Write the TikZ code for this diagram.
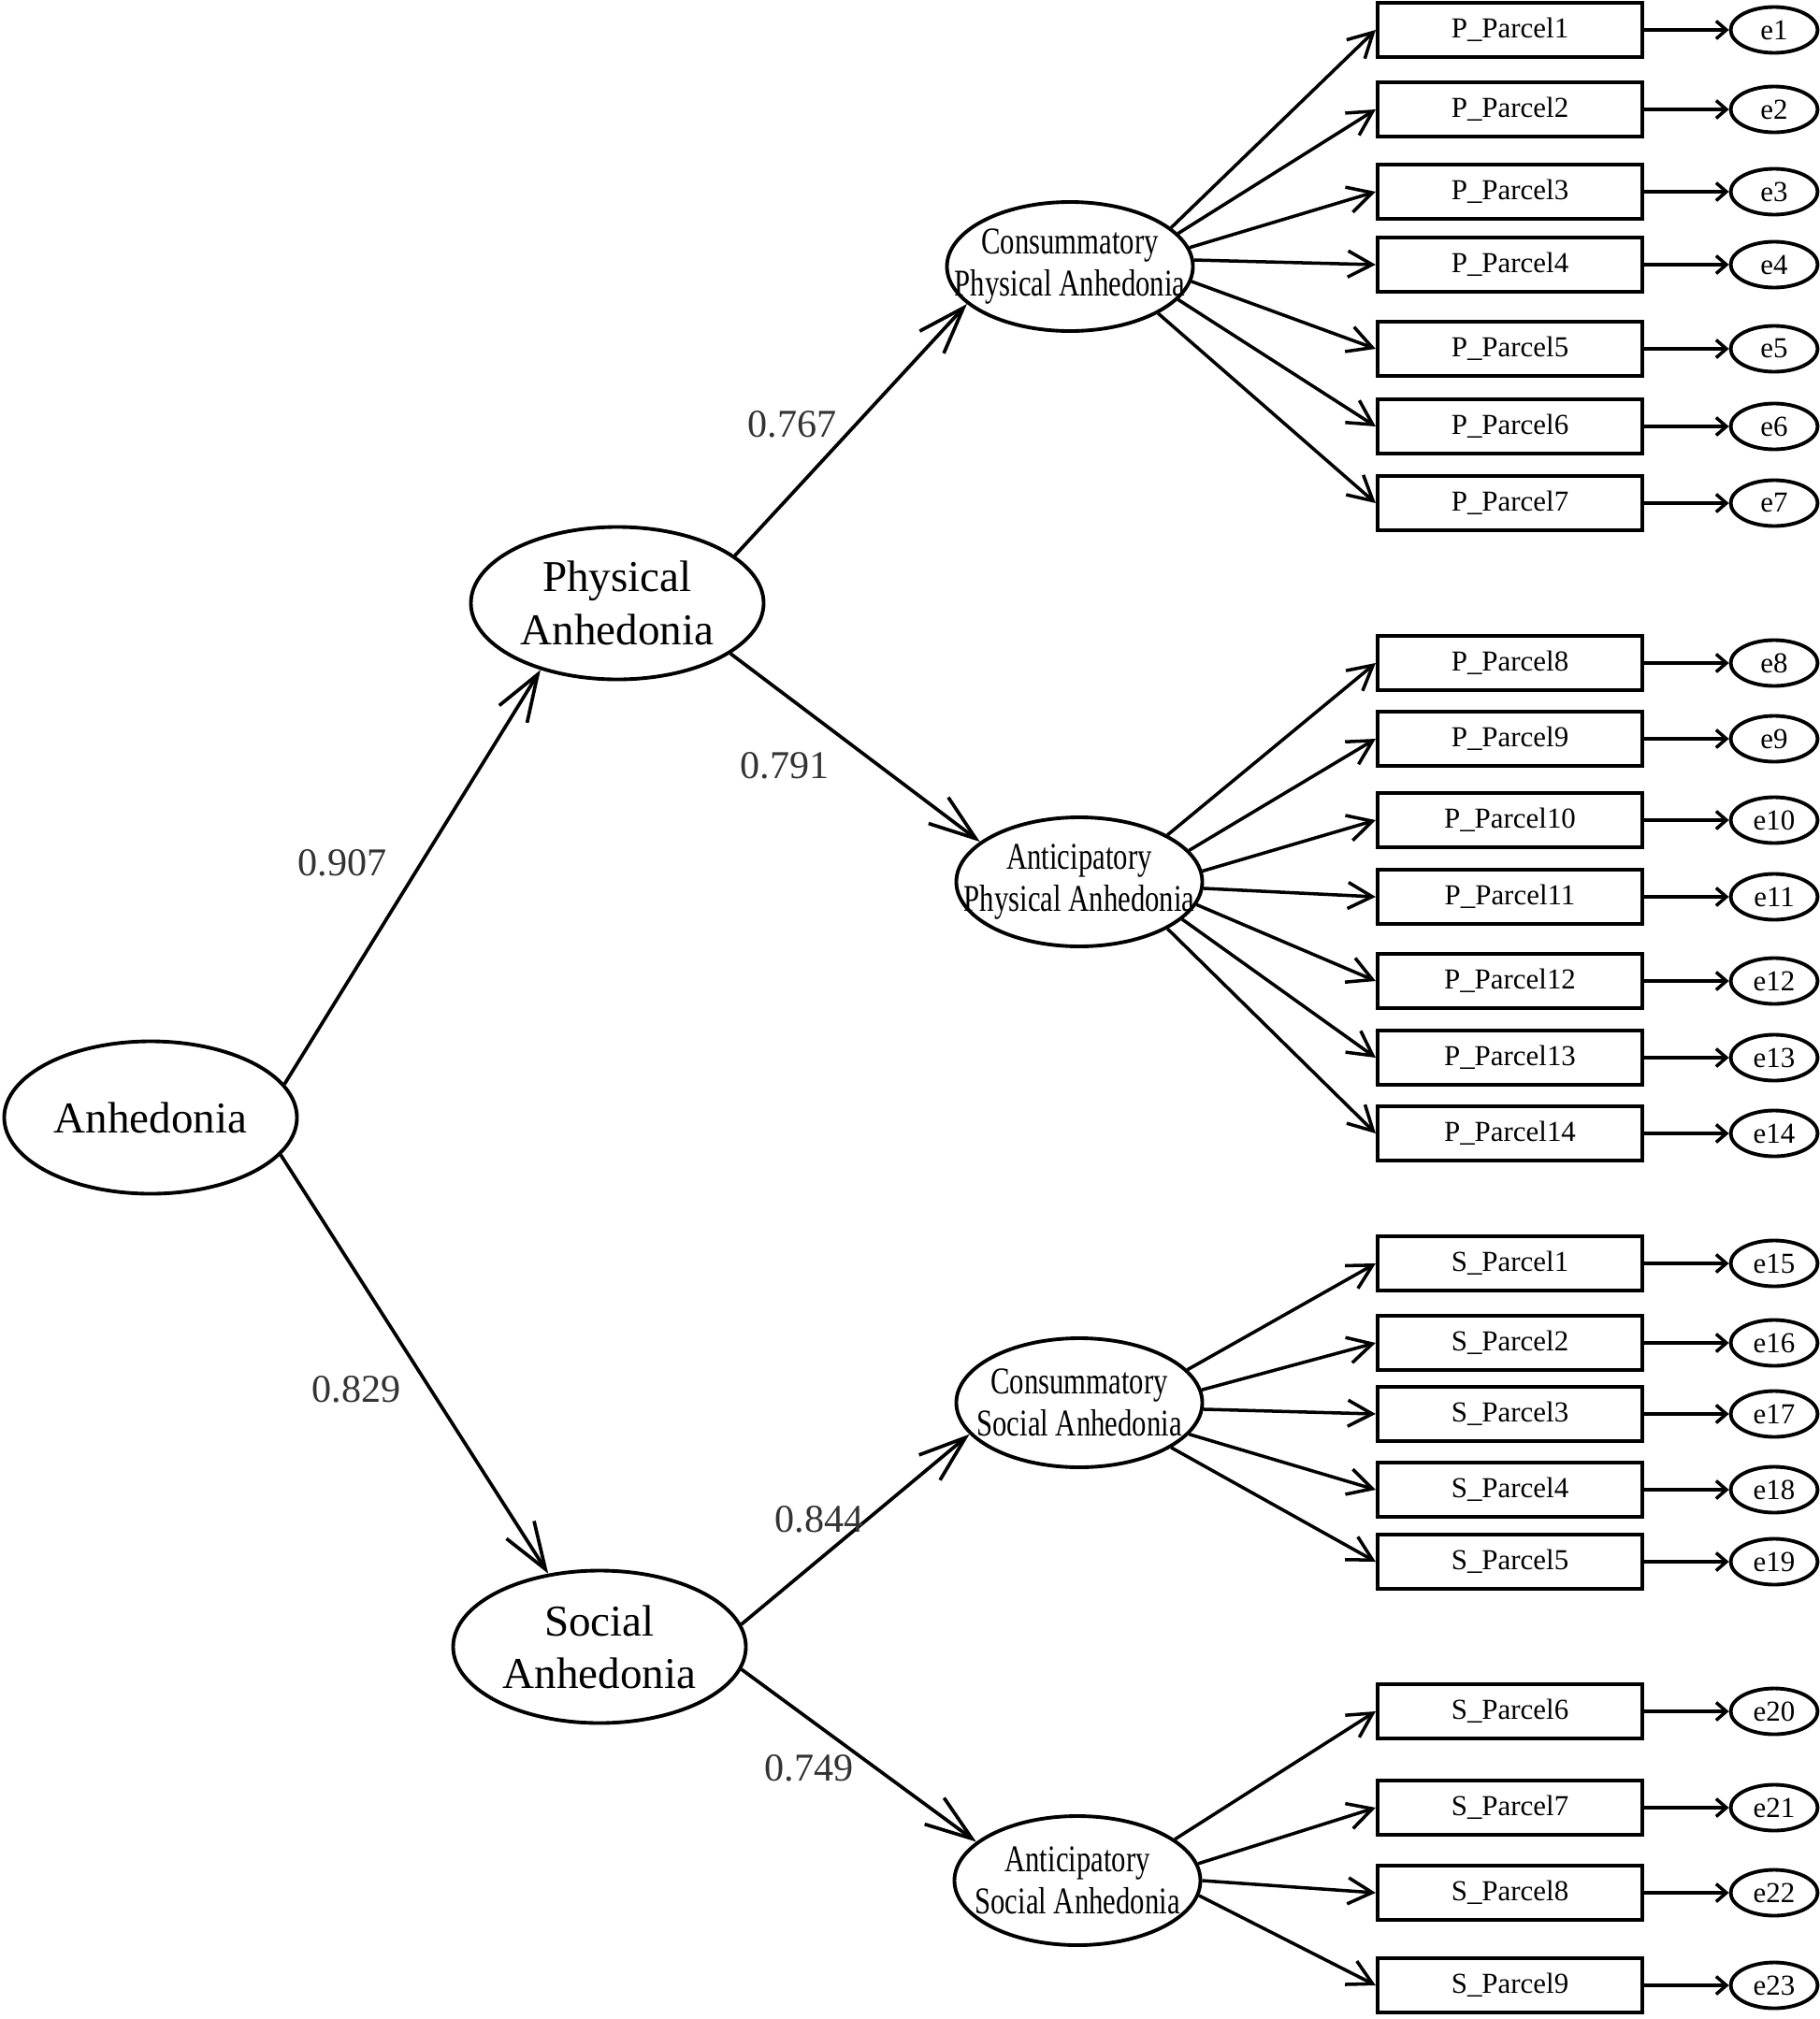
\documentclass[tikz,border=0pt]{standalone}
\usepackage{fontspec}
\setmainfont{Liberation Serif}
\newfontfamily\narrowfont{Liberation Serif}[FakeStretch=0.76]
\usetikzlibrary{arrows.meta,shapes.geometric}

\begin{document}
\begin{tikzpicture}[
lat/.style={draw,ellipse,line width=1.1pt,minimum width=31.3mm,minimum height=16.3mm,inner sep=0pt,align=center,font=\fontsize{13.4}{16}\selectfont},
sub/.style={draw,ellipse,line width=1.1pt,minimum width=26.3mm,minimum height=13.8mm,inner ysep=0pt,inner xsep=-2cm,align=center,font=\narrowfont\fontsize{11.5}{12.8}\selectfont},
box/.style={draw,line width=1.2pt,minimum width=28.3mm,minimum height=5.8mm,inner sep=0pt,font=\fontsize{8.8}{10}\selectfont},
err/.style={draw,ellipse,line width=1.1pt,minimum width=9.3mm,minimum height=4.9mm,inner sep=0pt,font=\fontsize{8.8}{10}\selectfont},
arr/.style={-{Straight Barb[length=5mm,width=3.5mm]},line width=1.05pt},
ind/.style={-{Straight Barb[length=2.6mm,width=2.8mm]},line width=1pt},
earr/.style={-{Straight Barb[length=1.1mm,width=1.9mm]},line width=1pt},
lab/.style={font=\fontsize{12}{14}\selectfont,text=black!80}]
\useasboundingbox (0,0) rectangle (19.46,-21.59);
% latent factors
\node[lat] (anh) at (1.61,-11.95) {Anhedonia};
\node[lat] (phy) at (6.60,-6.45) {Physical\\Anhedonia};
\node[lat] (soc) at (6.41,-17.61) {Social\\Anhedonia};
\node[sub] (cpa) at (11.44,-2.85) {Consummatory\\Physical Anhedonia};
\node[sub] (apa) at (11.54,-9.43) {Anticipatory\\Physical Anhedonia};
\node[sub] (csa) at (11.54,-15.00) {Consummatory\\Social Anhedonia};
\node[sub] (asa) at (11.52,-20.11) {Anticipatory\\Social Anhedonia};
\draw[arr] (anh.14) -- (phy.221);
\draw[arr] (anh.344) -- (soc.125);
\draw[arr] (phy.22) -- (cpa.200);
\draw[arr] (phy.336) -- (apa.158);
\draw[arr] (soc.9) -- (csa.196);
\draw[arr] (soc.351) -- (asa.159);
\node[lab] (lphy) at (3.66,-9.23) {0.907};
\node[lab] (lsoc) at (3.81,-14.86) {0.829};
\node[lab] (lcpa) at (8.47,-4.54) {0.767};
\node[lab] (lapa) at (8.39,-8.19) {0.791};
\node[lab] (lcsa) at (8.76,-16.25) {0.844};
\node[lab] (lasa) at (8.65,-18.91) {0.749};
% parcels, physical
\node[box] (p1) at (16.145,-0.32) {P\_Parcel1};
\node[box] (p2) at (16.145,-1.17) {P\_Parcel2};
\node[box] (p3) at (16.145,-2.05) {P\_Parcel3};
\node[box] (p4) at (16.145,-2.83) {P\_Parcel4};
\node[box] (p5) at (16.145,-3.73) {P\_Parcel5};
\node[box] (p6) at (16.145,-4.56) {P\_Parcel6};
\node[box] (p7) at (16.145,-5.38) {P\_Parcel7};
\node[box] (p8) at (16.145,-7.09) {P\_Parcel8};
\node[box] (p9) at (16.145,-7.90) {P\_Parcel9};
\node[box] (p10) at (16.145,-8.77) {P\_Parcel10};
\node[box] (p11) at (16.145,-9.59) {P\_Parcel11};
\node[box] (p12) at (16.145,-10.49) {P\_Parcel12};
\node[box] (p13) at (16.145,-11.31) {P\_Parcel13};
\node[box] (p14) at (16.145,-12.12) {P\_Parcel14};
% parcels, social
\node[box] (s1) at (16.145,-13.51) {S\_Parcel1};
\node[box] (s2) at (16.145,-14.36) {S\_Parcel2};
\node[box] (s3) at (16.145,-15.12) {S\_Parcel3};
\node[box] (s4) at (16.145,-15.93) {S\_Parcel4};
\node[box] (s5) at (16.145,-16.70) {S\_Parcel5};
\node[box] (s6) at (16.145,-18.30) {S\_Parcel6};
\node[box] (s7) at (16.145,-19.33) {S\_Parcel7};
\node[box] (s8) at (16.145,-20.24) {S\_Parcel8};
\node[box] (s9) at (16.145,-21.23) {S\_Parcel9};
% error terms
\node[err] (e1) at (18.97,-0.32) {e1};
\node[err] (e2) at (18.97,-1.17) {e2};
\node[err] (e3) at (18.97,-2.05) {e3};
\node[err] (e4) at (18.97,-2.83) {e4};
\node[err] (e5) at (18.97,-3.73) {e5};
\node[err] (e6) at (18.97,-4.56) {e6};
\node[err] (e7) at (18.97,-5.38) {e7};
\node[err] (e8) at (18.97,-7.09) {e8};
\node[err] (e9) at (18.97,-7.90) {e9};
\node[err] (e10) at (18.97,-8.77) {e10};
\node[err] (e11) at (18.97,-9.59) {e11};
\node[err] (e12) at (18.97,-10.49) {e12};
\node[err] (e13) at (18.97,-11.31) {e13};
\node[err] (e14) at (18.97,-12.12) {e14};
\node[err] (e15) at (18.97,-13.51) {e15};
\node[err] (e16) at (18.97,-14.36) {e16};
\node[err] (e17) at (18.97,-15.12) {e17};
\node[err] (e18) at (18.97,-15.93) {e18};
\node[err] (e19) at (18.97,-16.70) {e19};
\node[err] (e20) at (18.97,-18.30) {e20};
\node[err] (e21) at (18.97,-19.33) {e21};
\node[err] (e22) at (18.97,-20.24) {e22};
\node[err] (e23) at (18.97,-21.23) {e23};
% loadings
\draw[ind] (cpa.21) -- (p1.west);
\draw[ind] (cpa.17) -- (p2.west);
\draw[ind] (cpa.9) -- (p3.west);
\draw[ind] (cpa.3) -- (p4.west);
\draw[ind] (cpa.353) -- (p5.west);
\draw[ind] (cpa.343) -- (p6.west);
\draw[ind] (cpa.332) -- (p7.west);
\draw[ind] (apa.28) -- (p8.west);
\draw[ind] (apa.16) -- (p9.west);
\draw[ind] (apa.5) -- (p10.west);
\draw[ind] (apa.357) -- (p11.west);
\draw[ind] (apa.349) -- (p12.west);
\draw[ind] (apa.340) -- (p13.west);
\draw[ind] (apa.332) -- (p14.west);
\draw[ind] (csa.17) -- (s1.west);
\draw[ind] (csa.6) -- (s2.west);
\draw[ind] (csa.357) -- (s3.west);
\draw[ind] (csa.344) -- (s4.west);
\draw[ind] (csa.334) -- (s5.west);
\draw[ind] (asa.23) -- (s6.west);
\draw[ind] (asa.8) -- (s7.west);
\draw[ind] (asa.0) -- (s8.west);
\draw[ind] (asa.353) -- (s9.west);
% residuals
\draw[earr] (p1) -- (e1);
\draw[earr] (p2) -- (e2);
\draw[earr] (p3) -- (e3);
\draw[earr] (p4) -- (e4);
\draw[earr] (p5) -- (e5);
\draw[earr] (p6) -- (e6);
\draw[earr] (p7) -- (e7);
\draw[earr] (p8) -- (e8);
\draw[earr] (p9) -- (e9);
\draw[earr] (p10) -- (e10);
\draw[earr] (p11) -- (e11);
\draw[earr] (p12) -- (e12);
\draw[earr] (p13) -- (e13);
\draw[earr] (p14) -- (e14);
\draw[earr] (s1) -- (e15);
\draw[earr] (s2) -- (e16);
\draw[earr] (s3) -- (e17);
\draw[earr] (s4) -- (e18);
\draw[earr] (s5) -- (e19);
\draw[earr] (s6) -- (e20);
\draw[earr] (s7) -- (e21);
\draw[earr] (s8) -- (e22);
\draw[earr] (s9) -- (e23);
\end{tikzpicture}
\end{document}
